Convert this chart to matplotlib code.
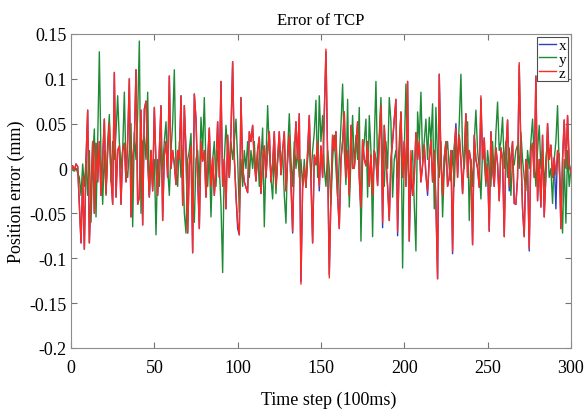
import matplotlib
matplotlib.use("Agg")
import matplotlib.pyplot as plt
from matplotlib.ticker import FuncFormatter

# --- values (mm), one per time step 0..300 ---------------------------------
steps = list(range(301))

err_z = [
    0.000, 0.003, -0.002, 0.005, 0.002, -0.040, -0.083, -0.010, -0.090, 0.010,
    0.065, -0.083, -0.025, 0.030, -0.050, 0.028, -0.015, 0.030, -0.030, 0.012,
    0.055, -0.028, 0.020, 0.050, -0.010, -0.040, 0.107, -0.032, 0.020, 0.025,
    -0.040, 0.020, 0.028, -0.015, 0.030, 0.100, -0.054, 0.010, 0.030, 0.110,
    -0.040, -0.032, 0.065, -0.063, 0.066, 0.075, 0.010, -0.032, 0.020, -0.025,
    0.068, 0.005, -0.030, 0.020, 0.070, -0.058, 0.015, 0.030, -0.010, 0.103,
    0.000, 0.020, 0.005, -0.018, 0.020, 0.010, 0.081, -0.041, 0.070, 0.020,
    -0.072, 0.004, 0.025, -0.094, 0.083, 0.055, -0.010, -0.067, 0.030, 0.008,
    0.020, -0.032, 0.010, 0.045, -0.020, 0.012, -0.030, 0.001, 0.052, -0.010,
    0.097, -0.020, 0.010, -0.045, 0.037, -0.010, 0.040, 0.119, 0.012, -0.030,
    -0.060, -0.074, 0.079, 0.002, -0.015, -0.021, -0.027, 0.041, 0.030, 0.048,
    0.008, -0.014, 0.020, 0.035, -0.028, 0.010, 0.025, -0.010, 0.020, 0.041,
    -0.015, 0.005, 0.041, -0.020, 0.010, 0.041, -0.007, 0.020, 0.041, -0.025,
    0.010, 0.037, -0.015, -0.070, 0.015, 0.052, 0.010, 0.061, -0.129, -0.020,
    0.002, -0.021, 0.020, 0.059, -0.010, -0.083, 0.015, 0.004, 0.030, -0.020,
    0.025, -0.010, 0.060, 0.133, 0.012, -0.122, -0.030, 0.037, 0.020, 0.041,
    -0.030, -0.067, 0.010, 0.030, 0.063, -0.010, 0.020, -0.030, 0.048, 0.000,
    0.001, 0.025, 0.052, -0.010, -0.043, 0.032, 0.010, 0.003, 0.030, -0.020,
    0.015, -0.030, 0.020, 0.010, -0.019, 0.030, 0.070, -0.060, 0.048, 0.010,
    -0.020, -0.058, 0.010, 0.030, 0.055, 0.077, -0.070, 0.010, 0.063, -0.010,
    0.030, -0.020, 0.097, -0.081, 0.020, -0.030, -0.010, 0.040, 0.010, 0.030,
    -0.015, 0.004, 0.026, -0.007, -0.025, 0.010, 0.032, -0.015, 0.020, -0.040,
    -0.123, 0.105, 0.010, -0.030, 0.012, 0.030, -0.020, -0.010, 0.020, -0.092,
    0.023, 0.045, -0.010, 0.037, 0.010, -0.028, 0.015, 0.061, -0.010, 0.020,
    0.008, -0.085, 0.037, 0.010, 0.000, -0.021, 0.081, 0.010, 0.034, -0.015,
    0.004, -0.070, 0.041, 0.000, -0.020, 0.023, 0.005, -0.036, 0.023, 0.010,
    -0.076, 0.020, 0.054, -0.020, 0.010, 0.030, -0.039, -0.040, -0.010, 0.118,
    0.019, -0.045, -0.076, 0.010, 0.001, -0.089, 0.020, 0.028, -0.010, 0.103,
    -0.036, 0.010, -0.043, 0.037, -0.054, -0.007, 0.050, 0.010, 0.026, -0.010,
    0.012, -0.007, 0.020, 0.015, -0.067, 0.010, 0.054, 0.001, 0.059, 0.005,
    -0.005,
]

err_x = [
    0.000, 0.003, -0.002, 0.005, 0.002, -0.040, -0.083, -0.010, -0.090, 0.010,
    0.065, -0.083, -0.025, 0.030, -0.050, 0.028, -0.015, 0.030, -0.030, 0.012,
    0.055, -0.028, 0.020, 0.050, -0.010, -0.040, 0.107, -0.032, 0.020, 0.025,
    -0.040, 0.020, 0.028, -0.015, 0.030, 0.100, -0.054, 0.010, 0.030, 0.110,
    -0.040, -0.032, 0.065, -0.063, 0.066, 0.075, 0.010, -0.032, 0.020, -0.025,
    0.068, 0.005, -0.030, 0.020, 0.070, -0.058, 0.015, 0.030, -0.010, 0.103,
    0.000, 0.020, 0.005, -0.018, 0.020, 0.010, 0.081, -0.041, 0.070, 0.020,
    -0.072, 0.004, 0.025, -0.094, 0.083, 0.055, -0.010, -0.067, 0.030, 0.008,
    0.020, -0.032, 0.010, 0.045, -0.020, 0.012, -0.030, 0.001, 0.052, -0.010,
    0.097, -0.020, 0.010, -0.045, 0.037, -0.010, 0.040, 0.119, 0.012, -0.030,
    -0.067, -0.074, 0.079, 0.002, -0.015, -0.021, -0.027, 0.041, 0.030, 0.048,
    0.008, -0.014, 0.020, 0.035, -0.028, 0.010, 0.025, -0.010, 0.020, 0.041,
    -0.015, 0.005, 0.041, -0.020, 0.010, 0.041, -0.007, 0.020, 0.041, -0.025,
    0.010, 0.037, -0.018, -0.072, 0.015, 0.052, 0.010, 0.061, -0.126, -0.020,
    0.002, -0.021, 0.020, 0.059, -0.010, -0.083, 0.015, 0.004, 0.030, -0.025,
    0.025, -0.010, 0.060, 0.130, 0.012, -0.118, -0.030, 0.037, 0.020, 0.041,
    -0.030, -0.067, 0.010, 0.030, 0.063, -0.010, 0.020, -0.030, 0.048, 0.000,
    0.001, 0.025, 0.052, -0.010, -0.050, 0.032, 0.010, 0.003, 0.030, -0.020,
    0.015, -0.030, 0.020, 0.010, -0.019, 0.030, 0.070, -0.066, 0.048, 0.010,
    -0.020, -0.058, 0.010, 0.030, 0.055, 0.077, -0.075, 0.010, 0.063, -0.010,
    0.030, -0.020, 0.097, -0.081, -0.005, -0.030, -0.010, 0.040, 0.010, 0.030,
    -0.015, 0.004, 0.026, -0.007, -0.030, 0.010, 0.032, -0.015, 0.020, -0.040,
    -0.123, 0.105, 0.010, -0.030, 0.012, 0.030, -0.020, -0.010, 0.020, -0.095,
    0.023, 0.050, -0.010, 0.037, 0.010, -0.028, 0.015, 0.061, -0.010, 0.020,
    0.008, -0.085, 0.037, 0.010, 0.000, -0.021, 0.078, 0.010, 0.034, -0.015,
    0.005, -0.070, 0.041, 0.000, -0.020, 0.023, 0.005, -0.036, 0.023, 0.010,
    -0.076, 0.020, 0.054, -0.025, 0.010, 0.030, -0.039, -0.040, -0.010, 0.115,
    0.019, -0.045, -0.076, 0.010, 0.001, -0.092, 0.020, 0.028, -0.010, 0.103,
    -0.036, 0.010, -0.043, 0.037, -0.054, -0.007, 0.050, 0.010, 0.026, -0.010,
    0.012, -0.045, 0.020, 0.015, -0.067, 0.010, 0.054, 0.001, 0.059, 0.005,
    -0.005,
]

err_y = [
    0.000, -0.002, -0.003, 0.000, -0.005, -0.010, -0.030, 0.005, -0.020, 0.010,
    -0.030, 0.020, -0.060, 0.010, 0.044, -0.054, 0.030, 0.130, 0.010, -0.040,
    0.020, -0.030, 0.030, 0.060, -0.015, 0.030, 0.010, 0.040, 0.081, 0.030,
    0.000, 0.020, 0.085, 0.000, -0.010, 0.020, 0.050, -0.065, 0.040, 0.010,
    0.060, 0.142, -0.050, 0.030, 0.035, 0.010, 0.085, -0.030, 0.020, -0.020,
    0.010, -0.074, 0.010, -0.020, 0.030, 0.000, 0.030, 0.052, 0.000, -0.030,
    0.020, 0.050, 0.110, 0.000, -0.020, 0.030, -0.010, 0.020, -0.050, -0.072,
    0.010, 0.020, 0.039, -0.030, -0.060, 0.010, 0.020, -0.020, 0.057, 0.020,
    0.079, 0.000, -0.020, 0.020, -0.054, 0.010, 0.030, -0.020, 0.020, 0.000,
    -0.040, -0.116, 0.010, 0.048, 0.020, -0.010, 0.030, 0.010, 0.030, 0.055,
    0.010, -0.049, 0.010, -0.020, 0.020, 0.000, 0.030, -0.010, 0.020, 0.000,
    0.030, -0.010, 0.020, -0.020, 0.010, 0.045, -0.065, 0.010, 0.070, 0.020,
    -0.010, -0.034, 0.020, -0.028, 0.010, 0.030, 0.000, 0.020, -0.030, -0.061,
    0.020, 0.061, 0.010, -0.020, 0.030, 0.000, 0.020, -0.010, 0.010, -0.020,
    0.010, -0.021, 0.010, 0.030, -0.010, 0.020, 0.040, 0.076, -0.010, 0.081,
    0.030, 0.059, 0.000, -0.020, 0.020, 0.000, -0.040, 0.010, 0.037, 0.000,
    -0.032, 0.010, 0.048, 0.094, 0.020, -0.018, 0.077, -0.043, 0.010, 0.059,
    0.000, 0.037, 0.010, 0.068, -0.081, 0.010, 0.030, 0.055, -0.032, 0.059,
    0.020, -0.076, 0.030, 0.097, 0.000, 0.037, 0.079, 0.010, -0.020, 0.030,
    0.000, 0.079, 0.052, -0.032, 0.010, 0.020, -0.010, 0.030, 0.061, -0.111,
    0.020, 0.094, 0.010, -0.020, 0.004, 0.020, -0.040, -0.092, 0.063, 0.030,
    0.085, 0.010, 0.030, 0.055, 0.010, 0.057, 0.030, 0.072, -0.045, 0.068,
    0.010, -0.010, 0.030, -0.054, 0.000, 0.017, 0.030, 0.000, -0.014, 0.020,
    -0.020, 0.030, 0.010, 0.050, 0.105, 0.020, 0.000, 0.030, 0.052, -0.058,
    0.010, -0.020, 0.030, 0.065, 0.020, 0.000, -0.034, 0.020, 0.010, -0.020,
    0.020, 0.000, -0.020, 0.030, -0.012, 0.040, 0.074, 0.020, 0.030, 0.057,
    0.000, 0.030, -0.010, 0.023, -0.030, 0.010, 0.004, 0.020, 0.026, 0.000,
    0.040, 0.010, -0.010, -0.025, 0.020, 0.000, 0.030, 0.055, 0.010, -0.020,
    0.020, 0.048, 0.000, 0.020, -0.020, 0.010, 0.030, -0.010, 0.000, -0.039,
    0.010, 0.030, 0.070, 0.000, -0.030, -0.072, 0.010, -0.061, 0.020, -0.020,
    0.000,
]

y_ticks = [0.15, 0.1, 0.05, 0, -0.05, -0.1, -0.15, -0.2]
x_ticks = [0, 50, 100, 150, 200, 250, 300]

plt.rcParams["font.family"] = ["Liberation Serif", "DejaVu Serif"]
plt.rcParams["axes.unicode_minus"] = False

fig = plt.figure(figsize=(5.86, 4.10), dpi=100)
ax = fig.add_axes([0.1212, 0.149, 0.853, 0.766])

ax.plot(steps, err_x, color="#2b3fc4", lw=1.0, label="x")
ax.plot(steps, err_y, color="#1f8a35", lw=1.0, label="y")
ax.plot(steps, err_z, color="#ff2a22", lw=1.0, label="z")

ax.set_xlim(0, 300)
ax.set_ylim(-0.2, 0.15)
ax.set_xticks(x_ticks)
ax.set_yticks(y_ticks)
ax.yaxis.set_major_formatter(FuncFormatter(lambda v, p: f"{v:g}"))
ax.tick_params(direction="in", top=True, right=True, labelsize=13,
               color="0.45", length=4)
ax.tick_params(axis="x", pad=8)
ax.tick_params(axis="y", pad=3)
for s in ax.spines.values():
    s.set_color("0.55")

ax.set_title("Error of TCP", fontsize=12, pad=7)
ax.set_xlabel("Time step (100ms)", fontsize=13)
ax.xaxis.set_label_coords(0.516, -0.135)
ax.set_ylabel("Position error (mm)", fontsize=13, labelpad=3)

leg = ax.legend(loc="upper right", fontsize=11, labelspacing=0.0,
                handlelength=1.1, handletextpad=0.2, borderpad=0.1,
                borderaxespad=0.2, fancybox=False, framealpha=1)
leg.get_frame().set_edgecolor("0.3")
leg.get_frame().set_linewidth(0.8)

fig.savefig("out.png", dpi=100)
